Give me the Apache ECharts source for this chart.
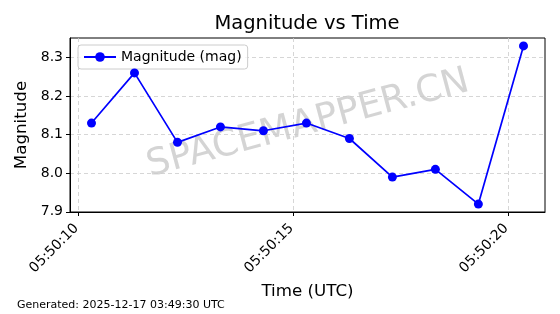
<!DOCTYPE html>
<html><head><meta charset="utf-8">
<script src="https://cdn.jsdelivr.net/npm/echarts@6/dist/echarts.min.js"></script>
<style>html,body{margin:0;padding:0;background:#fff}#c{width:560px;height:314px}</style>
</head><body><div id="c"></div>
<script>
// seconds after 05:50:00 UTC
const timeSeconds = [10.3, 11.3, 12.3, 13.3, 14.3, 15.3, 16.3, 17.3, 18.3, 19.3, 20.35];
const magnitudes = [8.13, 8.26, 8.08, 8.12, 8.11, 8.13, 8.09, 7.99, 8.01, 7.92, 8.33];
const xTickValues = [10, 15, 20];
const xTickLabels = ['05:50:10', '05:50:15', '05:50:20'];
const yTickValues = [7.9, 8.0, 8.1, 8.2, 8.3];
const yTickLabels = ['7.9', '8.0', '8.1', '8.2', '8.3'];

const font = 'DejaVu Sans';
const chart = echarts.init(document.getElementById('c'), null, {renderer: 'canvas'});
chart.setOption({
  animation: false,
  textStyle: {fontFamily: font},
  grid: {left: 70, right: 15, top: 38, bottom: 102, show: true, borderColor: '#000', borderWidth: 1},
  legend: {left: 78, top: 45, padding: [5, 6, 5, 5], borderColor: '#ccc', borderWidth: 1, borderRadius: 3,
    backgroundColor: 'rgba(255,255,255,0.8)', itemWidth: 32, itemHeight: 12, itemGap: 8,
    textStyle: {fontFamily: font, fontSize: 14, color: '#000'},
    data: ['Magnitude (mag)']},
  xAxis: {type: 'value', min: 9.8, max: 20.85,
    name: 'Time (UTC)', nameLocation: 'middle', nameGap: 71,
    nameTextStyle: {fontFamily: font, fontSize: 16.7, color: '#000'},
    axisLine: {show: true, lineStyle: {color: '#000'}},
    axisTick: {show: true, length: 4, lineStyle: {color: '#000'}, customValues: xTickValues},
    axisLabel: {customValues: xTickValues, rotate: 45, margin: 12, padding: [0, 3, 0, 0], fontFamily: font, fontSize: 14, color: '#000',
      formatter: v => xTickLabels[xTickValues.indexOf(Math.round(v))] || ''},
    splitLine: {show: true, lineStyle: {color: '#ccc', type: [4, 3], width: 0.8}}},
  yAxis: {type: 'value', min: 7.8995, max: 8.3505,
    name: 'Magnitude', nameLocation: 'middle', nameGap: 37,
    nameTextStyle: {fontFamily: font, fontSize: 16.7, color: '#000'},
    axisLine: {show: true, lineStyle: {color: '#000'}},
    axisTick: {show: true, length: 4, lineStyle: {color: '#000'}, customValues: yTickValues},
    axisLabel: {customValues: yTickValues, margin: 7, fontFamily: font, fontSize: 14, color: '#000',
      formatter: v => { const i = yTickValues.findIndex(t => Math.abs(t - v) < 1e-6); return i >= 0 ? yTickLabels[i] : ''; }},
    splitLine: {show: true, lineStyle: {color: '#ccc', type: [4, 3], width: 0.8}}},
  graphic: [
    {type: 'text', x: 307, y: 24, z: 10,
      style: {text: 'Magnitude vs Time', fontFamily: font, fontSize: 19.5, fill: '#000',
        align: 'center', verticalAlign: 'middle'}},
    {type: 'text', x: 308, y: 124, rotation: 15 * Math.PI / 180, z: 0,
      style: {text: 'SPACEMAPPER.CN', fontFamily: font, fontSize: 37, fill: 'rgba(128,128,128,0.34)',
        align: 'center', verticalAlign: 'middle'}},
    {type: 'text', left: 17, top: 300,
      style: {text: 'Generated: 2025-12-17 03:49:30 UTC', fontFamily: font, fontSize: 11, fill: '#000'}}
  ],
  series: [{name: 'Magnitude (mag)', type: 'line', data: timeSeconds.map((t, i) => [t, magnitudes[i]]),
    symbol: 'circle', symbolSize: 9, showSymbol: true,
    itemStyle: {color: '#0000ff'}, lineStyle: {color: '#0000ff', width: 1.7}, z: 5}]
});
</script></body></html>
